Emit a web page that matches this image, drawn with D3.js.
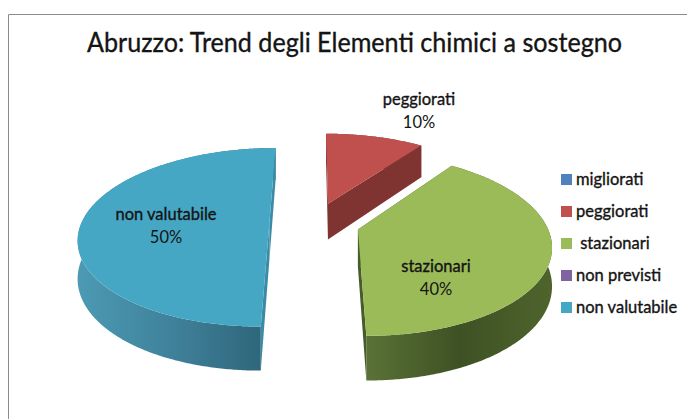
<!DOCTYPE html>
<html>
<head>
<meta charset="utf-8">
<script src="https://cdn.jsdelivr.net/npm/d3@7"></script>
<style>
  html, body { margin: 0; background: #fff; }
  svg { display: block; }
  text { font-family: Lato, "Open Sans", sans-serif; fill: #141414; white-space: pre; }
  .strong { stroke: #141414; stroke-width: 0.35; }
</style>
</head>
<body>
<svg id="viz" width="687" height="419"></svg>
<script>
const title = "Abruzzo: Trend degli Elementi chimici a sostegno";
const categories = ["migliorati", "peggiorati", "stazionari", "non previsti", "non valutabile"];
const values = [0, 10, 40, 0, 50];
const colors = ["#4F81BD", "#C0504D", "#9BBB59", "#8064A2", "#46A7C4"];
const wallColors = [
  ["#3d6590", "#2c4a6b"],
  ["#7f3432", "#7f3432"],
  ["#5a7236", "#3e5124", "#4e642c"],
  ["#5f4a7a", "#463659"],
  ["#4c9ab4", "#3f8099", "#2c6276"]
];
const faceColors = ["#2c4a6b", "#7f3432", "#465c2a", "#463659", "#3b8ba6"];

const W = 687, H = 419;
const svg = d3.select("#viz");
const defs = svg.append("defs");

// frame: only the top and left edges are visible in the picture
svg.append("path").attr("d", `M8.5,${H} V14.5 H${W}`)
  .attr("fill", "none").attr("stroke", "#8c8c8c").attr("stroke-width", 1);

svg.append("text")
  .attr("class", "strong")
  .attr("x", 354.5).attr("y", 52)
  .attr("text-anchor", "middle")
  .attr("font-size", 27)
  .attr("textLength", 535)
  .attr("lengthAdjust", "spacingAndGlyphs")
  .text(title);

// Pie in a plane, seen in perspective. u = right, v = away from viewer (radius 1)
const CX = 314.5, CY = 223, R = 188, RY = 87, K = 0.16, DEPTH = 37, EXPLODE = 0.24;

function project(u, v, down) {
  const s = 1 / (1 + K * v);
  return [CX + R * u * s, CY - RY * v * s + (down ? DEPTH * s : 0)];
}

const pie = d3.pie().sort(null).value(d => d).startAngle(0).endAngle(2 * Math.PI);
const arcs = pie(values);
const line = d3.line();

arcs.forEach((a, i) => {
  if (a.value === 0) return;
  const mid = (a.startAngle + a.endAngle) / 2;
  const ou = Math.sin(mid) * EXPLODE, ov = Math.cos(mid) * EXPLODE;
  const angles = d3.range(a.startAngle, a.endAngle, 0.01).concat([a.endAngle]);
  const rimPt = (t, down) => project(ou + Math.sin(t), ov + Math.cos(t), down);
  const apex = down => project(ou, ov, down);

  const g = svg.append("g").attr("class", "slice");
  const top = angles.map(t => rimPt(t, false));
  const bottom = angles.map(t => rimPt(t, true));
  const xs = d3.extent(top, d => d[0]);

  const gradId = "wall" + i;
  const grad = defs.append("linearGradient").attr("id", gradId)
    .attr("gradientUnits", "userSpaceOnUse")
    .attr("x1", xs[0]).attr("x2", xs[1]).attr("y1", 0).attr("y2", 0);
  wallColors[i].forEach((c, j) => {
    grad.append("stop").attr("offset", j / (wallColors[i].length - 1)).attr("stop-color", c);
  });

  // outer wall
  g.append("path")
    .attr("d", line(top.concat(bottom.slice().reverse())) + "Z")
    .attr("fill", `url(#${gradId})`);
  // cut faces
  [a.startAngle, a.endAngle].forEach(t => {
    g.append("path")
      .attr("d", line([apex(false), rimPt(t, false), rimPt(t, true), apex(true)]) + "Z")
      .attr("fill", faceColors[i]);
  });
  // top face
  g.append("path")
    .attr("d", line([apex(false)].concat(top)) + "Z")
    .attr("fill", colors[i]);
});

// data labels, centred on these spots
const labelAt = { 1: [419, 105], 2: [436, 272], 4: [166, 220] };
Object.keys(labelAt).forEach(k => {
  const [x, y] = labelAt[k];
  const t = svg.append("text").attr("text-anchor", "middle").attr("font-size", 16.5);
  t.append("tspan").attr("x", x).attr("y", y).attr("class", "strong").text(categories[k]);
  t.append("tspan").attr("x", x).attr("y", y + 23).text(values[k] + "%");
});

// legend
const legendY = d3.scalePoint().domain(categories).range([179, 307]);
const legendText = d => d === "stazionari" ? " " + d : d;
const legend = svg.append("g").selectAll("g").data(categories).join("g")
  .attr("transform", d => `translate(561,${legendY(d)})`);
legend.append("rect")
  .attr("x", 0).attr("y", -5).attr("width", 11).attr("height", 11)
  .attr("fill", (d, i) => colors[i]);
legend.append("text")
  .attr("class", "strong")
  .attr("x", 15).attr("y", 5.5)
  .attr("font-size", 16.5)
  .text(legendText);
</script>
</body>
</html>
